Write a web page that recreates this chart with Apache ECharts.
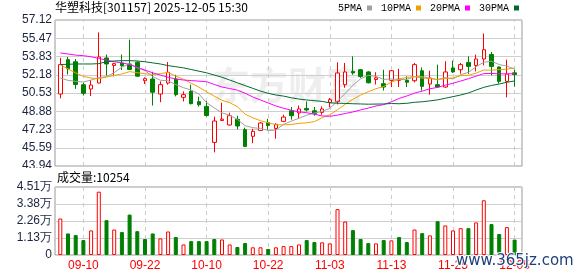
<!DOCTYPE html>
<html><head><meta charset="utf-8">
<script src="https://cdn.jsdelivr.net/npm/echarts@6/dist/echarts.min.js"></script>
<style>html,body{margin:0;padding:0;background:#fff}#c{width:578px;height:276px}</style>
</head><body><div id="c"></div>
<script>
const dates = ['09-05','09-08','09-09','09-10','09-11','09-12','09-15','09-16','09-17','09-18','09-19','09-22','09-23','09-24','09-25','09-26','09-29','09-30','10-09','10-10','10-13','10-14','10-15','10-16','10-17','10-20','10-21','10-22','10-23','10-24','10-27','10-28','10-29','10-30','10-31','11-03','11-04','11-05','11-06','11-07','11-10','11-11','11-12','11-13','11-14','11-17','11-18','11-19','11-20','11-21','11-24','11-25','11-26','11-27','11-28','12-01','12-02','12-03','12-04','12-05'];
const openP  = [50.44,53.54,53.35,51.28,50.89,51.43,53.69,53.02,53.24,53.15,53.30,51.64,51.79,50.44,51.43,51.79,50.14,50.68,49.75,49.32,46.07,48.05,47.64,48.15,47.22,46.62,47.15,47.85,47.33,47.97,48.93,48.73,49.14,48.93,48.78,49.68,49.77,51.28,52.48,52.63,52.43,51.75,51.37,51.67,51.67,51.67,51.64,52.54,51.34,51.28,51.07,52.79,52.63,53.29,53.02,53.60,54.00,52.88,51.58,52.35];
const closeP = [53.09,52.72,51.30,50.50,51.25,53.78,53.15,53.18,53.00,52.65,52.05,51.82,50.60,51.28,52.39,50.38,50.38,49.57,49.47,48.50,48.00,48.17,48.48,47.55,45.71,47.07,47.82,47.60,47.70,48.36,48.48,49.09,49.00,48.65,49.09,49.93,52.34,52.43,52.34,52.03,51.45,51.90,51.07,52.54,51.79,51.50,53.09,51.13,51.88,51.07,52.43,52.43,53.09,52.93,53.60,54.44,52.93,51.58,52.25,52.20];
const lowP   = [50.05,52.20,50.90,50.30,50.25,51.40,52.10,52.03,52.60,52.60,52.00,51.34,49.40,49.70,51.28,50.22,49.77,49.50,49.30,48.40,45.17,48.02,47.60,47.25,45.70,46.00,47.10,47.22,46.40,47.90,48.12,48.20,48.87,48.48,48.57,49.23,49.50,51.00,52.18,51.90,51.40,51.30,50.75,51.07,51.07,51.07,51.49,50.74,50.38,51.00,51.00,52.34,52.27,52.25,52.48,53.02,52.12,51.37,50.14,51.10];
const highP  = [53.70,53.78,53.60,51.45,51.70,56.00,54.00,53.25,54.00,55.35,53.40,51.94,52.45,51.58,53.33,52.18,50.68,51.28,50.20,49.80,48.40,49.65,48.75,48.48,47.40,47.30,47.90,48.20,47.80,48.57,49.27,49.40,49.77,49.27,49.32,50.08,53.30,53.24,53.84,52.70,52.50,52.40,52.63,52.60,52.72,52.03,53.24,52.84,52.54,53.09,53.40,53.45,53.24,53.84,53.99,55.90,54.23,52.90,53.54,52.63];
const volume = [24200,14300,13200,9900,16300,42000,23100,16900,15200,26800,15800,10600,14300,11000,15600,11900,7000,9200,9200,9200,10600,10300,7000,5300,7900,5100,5100,4000,5100,5900,5900,7000,9900,8600,8400,7700,30400,22200,16500,10600,7900,7700,9900,9700,11900,8600,16900,14500,13000,22400,19600,16300,17800,17800,21600,36300,20500,13900,18500,10254];
const volUp  = [1,0,0,0,1,1,0,1,0,0, 0,0,0,1,1,0,1,0,0,0, 0,1,1,0,0,1,1,0,1,1, 1,1,0,0,1,1,1,1,0,0, 0,1,0,1,0,0,1,0,1,0, 1,1,1,0,1,1,0,0,1,0];
const ma5  = [51.88,51.67,51.58,51.52,51.70,51.91,52.00,52.37,52.87,53.15,52.81,52.54,52.02,51.68,51.63,51.29,51.01,50.80,50.44,49.66,49.18,48.74,48.52,48.14,47.58,47.40,47.33,47.15,47.18,47.71,47.99,48.25,48.53,48.72,48.86,49.15,49.80,50.49,51.23,51.81,52.12,52.03,51.76,51.80,51.75,51.76,52.00,52.01,51.88,51.73,51.92,51.79,52.18,52.39,52.90,53.30,53.40,53.10,52.96,52.68];
const ma10 = [53.09,52.70,52.34,52.03,51.88,51.82,51.97,52.12,52.25,52.46,52.36,52.27,52.20,52.28,52.39,52.05,51.77,51.41,51.06,50.64,50.24,49.87,49.66,49.29,48.62,48.29,48.03,47.84,47.66,47.65,47.69,47.79,47.84,47.95,48.29,48.57,49.02,49.51,49.97,50.34,50.64,50.92,51.12,51.51,51.78,51.94,52.01,51.88,51.84,51.74,51.84,51.89,52.10,52.13,52.32,52.61,52.59,52.64,52.68,52.79];
const ma20 = [54.15,54.05,53.95,53.90,53.80,53.65,53.50,53.35,53.25,53.10,52.85,52.60,52.35,52.15,51.95,51.80,51.70,51.65,51.60,51.55,51.30,51.07,50.93,50.79,50.51,50.17,49.90,49.63,49.36,49.15,48.97,48.83,48.75,48.62,48.46,48.43,48.53,48.68,48.82,49.00,49.17,49.36,49.48,49.73,50.04,50.26,50.52,50.70,50.91,51.04,51.24,51.41,51.61,51.82,52.05,52.28,52.30,52.26,52.26,52.27];
const ma30 = [53.10,53.12,53.15,53.15,53.15,53.18,53.35,53.42,53.45,53.45,53.42,53.35,53.25,53.15,53.00,52.90,52.80,52.65,52.50,52.35,52.15,51.95,51.70,51.45,51.20,50.95,50.70,50.50,50.35,50.25,50.10,49.98,49.90,49.84,49.77,49.64,49.61,49.59,49.56,49.54,49.52,49.53,49.54,49.58,49.56,49.60,49.69,49.74,49.82,49.91,50.06,50.20,50.35,50.53,50.80,51.04,51.21,51.34,51.50,51.62];
const priceTicks = ['43.94','45.59','47.23','48.88','50.53','52.18','53.83','55.47','57.12'];
const volTicks = ['0','1.13万','2.26万','3.38万','4.51万'];
const labelIdx = [3,11,19,27,35,43,51,59];
const priceMin = 43.94, priceMax = 57.12, volMax = 45100;

const UP = '#ff0000', DOWN = '#008000';
const chart = echarts.init(document.getElementById('c'));
const candleData = dates.map((d, i) => [openP[i], closeP[i], lowP[i], highP[i]]);
const volData = volume.map((v, i) => ({
  value: v,
  itemStyle: volUp[i] ? {color: '#ffffff', borderColor: UP, borderWidth: 1} : {color: DOWN, borderColor: DOWN, borderWidth: 1}
}));
const vlines = labelIdx.map(i => ({xAxis: dates[i]}));
const markCfg = {symbol: ['none', 'none'], silent: true, z: 1, label: {show: false},
  lineStyle: {color: '#cccccc', type: [4, 4], width: 1}, emphasis: {disabled: true}, data: vlines, animation: false};
const axisFont = {fontFamily: 'Liberation Sans', fontSize: 12, color: '#1c2440'};
const maLine = (name, data, color) => ({
  name, type: 'line', xAxisIndex: 1, yAxisIndex: 1, data, symbol: 'none', showSymbol: false,
  lineStyle: {width: 1, color}, itemStyle: {color}, z: 4, silent: true
});

chart.setOption({
  animation: false,
  title: [
    {text: '华塑科技[301157] 2025-12-05 15:30', left: 55, top: 1, padding: 0,
     textStyle: {fontSize: 12, fontWeight: 'normal', color: '#000', fontFamily: 'Noto Sans CJK SC'}},
    {text: '成交量:10254', left: 57, top: 171, padding: 0,
     textStyle: {fontSize: 12, fontWeight: 'normal', color: '#000', fontFamily: 'Noto Sans CJK SC'}}
  ],
  legend: {left: 338, top: 3, padding: 0, itemWidth: 5, itemHeight: 5, itemGap: 9, align: 'right', icon: 'rect',
    selectedMode: false, textStyle: {fontFamily: 'Liberation Mono', fontSize: 10, color: '#000'},
    data: ['5PMA', '10PMA', '20PMA', '30PMA']},
  grid: [
    {left: 55, right: 56, top: 20, height: 146, show: true, borderColor: '#999999', borderWidth: 1, backgroundColor: 'transparent'},
    {left: 56.45, width: 462, top: 20, height: 146},
    {left: 55, right: 56, top: 187, height: 68, show: true, borderColor: '#999999', borderWidth: 1, backgroundColor: 'transparent'},
    {left: 56.45, width: 462, top: 187, height: 68}
  ],
  xAxis: [
    {type: 'value', gridIndex: 0, min: 0, max: 1, show: false},
    {type: 'category', gridIndex: 1, data: dates, show: false},
    {type: 'value', gridIndex: 2, min: 0, max: 1, show: false},
    {type: 'category', gridIndex: 3, data: dates, axisLine: {show: false}, axisTick: {show: false}, splitLine: {show: false},
     axisLabel: {interval: (i) => labelIdx.includes(i), color: '#ff0000', fontFamily: 'Liberation Sans', fontSize: 12, margin: 5}}
  ],
  yAxis: [
    {type: 'value', gridIndex: 0, min: 0, max: priceTicks.length - 1, interval: 1,
     axisLine: {show: false}, axisTick: {show: false},
     axisLabel: Object.assign({margin: 3, formatter: v => priceTicks[v]}, axisFont),
     splitLine: {lineStyle: {color: '#cfcfcf', width: 1}}},
    {type: 'value', gridIndex: 1, min: priceMin, max: priceMax, show: false},
    {type: 'value', gridIndex: 2, min: 0, max: volTicks.length - 1, interval: 1,
     axisLine: {show: false}, axisTick: {show: false},
     axisLabel: Object.assign({margin: 3, formatter: v => volTicks[v]}, axisFont),
     splitLine: {lineStyle: {color: '#cfcfcf', width: 1}}},
    {type: 'value', gridIndex: 3, min: 0, max: volMax, show: false}
  ],
  graphic: [
    {type: 'text', left: 212, top: 66, z: 0, silent: true,
     style: {text: '东方财富', font: 'bold 38px "Noto Sans CJK SC"', fill: '#eeeeee'}},
    {type: 'rect', left: 0, top: 168, z: 50, silent: true, shape: {width: 54, height: 9}, style: {fill: '#ffffff'}},
    {type: 'text', left: 455, top: 253, z: 100, silent: true,
     style: {text: 'www.365jz.com', font: '15px "DejaVu Sans"', fill: '#1d3f7c', stroke: '#ffffff', lineWidth: 2}}
  ],
  series: [
    {type: 'candlestick', name: 'K', xAxisIndex: 1, yAxisIndex: 1, data: candleData, barWidth: 4, z: 3,
     itemStyle: {color: '#ffffff', color0: DOWN, borderColor: UP, borderColor0: DOWN, borderWidth: 1},
     markLine: markCfg},
    maLine('5PMA', ma5, '#a0a0a0'),
    maLine('10PMA', ma10, '#f0a000'),
    maLine('20PMA', ma20, '#ff00ff'),
    maLine('30PMA', ma30, '#006a30'),
    {type: 'bar', name: 'VOL', xAxisIndex: 3, yAxisIndex: 3, data: volData, barWidth: 4, z: 3,
     markLine: markCfg}
  ]
});
</script></body></html>
